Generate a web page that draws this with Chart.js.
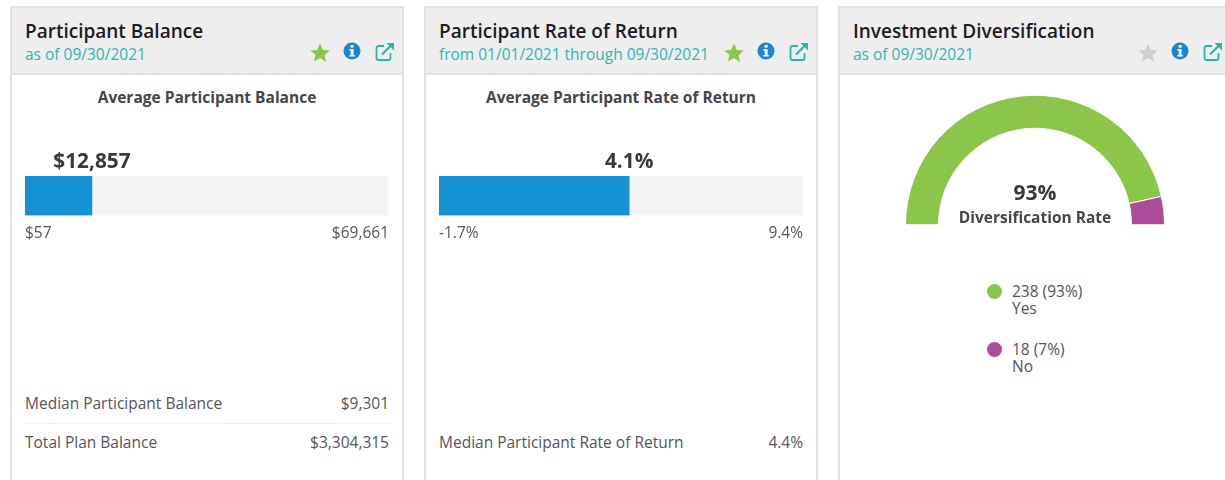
<!DOCTYPE html>
<html>
<head>
<meta charset="utf-8">
<script src="https://cdn.jsdelivr.net/npm/chart.js@4"></script>
<style>
  html, body { margin: 0; padding: 0; background: #fff; width: 1225px; height: 480px; overflow: hidden; }
  body { position: relative; font-family: "Open Sans", sans-serif; color: #4a4a4f; }
  .panel { position: absolute; top: 6px; width: 390px; height: 520px; border: 2px solid #e2e2e2; background: #fff; }
  .head { position: absolute; left: 0; top: 0; right: 0; height: 65px; background: #eeeeee; border-bottom: 2px solid #e2e2e2; }
  .abs { position: absolute; white-space: nowrap; }
  .title { left: 13px; top: 10px; font-size: 19px; font-weight: 600; color: #1c1c1f; }
  .sub { left: 13px; top: 35px; font-size: 15.5px; color: #2fb6b4; }
  .heading { left: 0; width: 390px; top: 78px; text-align: center; font-size: 15.5px; font-weight: 700; color: #45454b; }
  .row { font-size: 15.5px; color: #55555b; }
  .line { position: absolute; height: 1px; background: #f0f0f0; }
  .icon { position: absolute; top: 34px; }
  canvas { position: absolute; }
  .dot { position: absolute; width: 15px; height: 15px; border-radius: 50%; }
</style>
</head>
<body>
<script>
const panelTitles = ["Participant Balance", "Participant Rate of Return", "Investment Diversification"];
const panelDates = ["as of 09/30/2021", "from 01/01/2021 through 09/30/2021", "as of 09/30/2021"];
const panelLeft = [10, 424, 838];
const starColors = ["#8bc64b", "#8bc64b", "#d0d0cb"];
const iconLeft = [298, 298, 298];

const barHeadings = ["Average Participant Balance", "Average Participant Rate of Return"];
const barValues = [12857, 4.1];
const barMins = [57, -1.7];
const barMaxes = [69661, 9.4];
const barValueText = ["$12,857", "4.1%"];
const barMinText = ["$57", "-1.7%"];
const barMaxText = ["$69,661", "9.4%"];

const balanceRows = ["Median Participant Balance", "Total Plan Balance"];
const balanceRowValues = ["$9,301", "$3,304,315"];
const returnRows = ["Median Participant Rate of Return"];
const returnRowValues = ["4.4%"];

const gaugeLabels = ["Yes", "No"];
const gaugeCounts = [238, 18];
const gaugeText = ["238 (93%)", "18 (7%)"];
const gaugeColors = ["#8bc64b", "#ad4c98"];

function addText(parent, cls, text, style) {
  const el = document.createElement("div");
  el.className = "abs " + cls;
  el.innerText = text;
  Object.assign(el.style, style || {});
  parent.append(el);
  return el;
}

function addIcons(panel, i) {
  const x = iconLeft[i];
  const star = '<svg class="icon" style="left:' + x + 'px;top:35px" width="20" height="20" viewBox="0 0 20 20"><path fill="' + starColors[i] + '" d="M10 .5l2.9 6.4 6.9.7-5.2 4.6 1.5 6.8L10 15l-6.1 3.5 1.5-6.8L.2 7.6l6.9-.7z"/></svg>';
  const info = '<svg class="icon" style="left:' + (x + 33) + 'px" width="18" height="18" viewBox="0 0 18 18"><circle cx="9" cy="9" r="8.5" fill="#1a86d0"/><rect x="7.6" y="3" width="3" height="2.6" fill="#fff"/><path fill="#fff" d="M6.4 7h4.2v6h1.2v1.6H6.4V13h1.3V8.6H6.4z"/></svg>';
  const link = '<svg class="icon" style="left:' + (x + 65) + 'px" width="20" height="20" viewBox="0 0 20 20"><path fill="none" stroke="#2bb5a8" stroke-width="1.8" d="M9 4H3.5C2.4 4 1.5 4.9 1.5 6v10c0 1.1.9 2 2 2h10c1.1 0 2-.9 2-2v-5"/><path fill="none" stroke="#2bb5a8" stroke-width="2.2" d="M7 12.5L16.5 3"/><path fill="#2bb5a8" d="M11.5 1H19v7.5z"/></svg>';
  panel.insertAdjacentHTML("beforeend", star + info + link);
}

function makePanel(i) {
  const panel = document.createElement("div");
  panel.className = "panel";
  panel.style.left = panelLeft[i] + "px";
  const head = document.createElement("div");
  head.className = "head";
  panel.append(head);
  addText(panel, "title", panelTitles[i]);
  addText(panel, "sub", panelDates[i]);
  addIcons(panel, i);
  document.body.append(panel);
  return panel;
}

// draws the big value centred over the end of the bar
const valueLabel = {
  id: "valueLabel",
  afterDraw(chart, args, opts) {
    const x = chart.scales.x.getPixelForValue(opts.value);
    const ctx = chart.ctx;
    ctx.save();
    ctx.font = '700 20.8px "Open Sans"';
    ctx.fillStyle = "#38383d";
    ctx.textAlign = "center";
    ctx.textBaseline = "alphabetic";
    ctx.fillText(opts.text, x, chart.chartArea.top - 8);
    ctx.restore();
  },
};

function renderBar(panel, i) {
  const canvas = document.createElement("canvas");
  const wrap = document.createElement("div");
  // tick padding insets the plot area by the same amount, so the box is wider than the bar
  wrap.style.cssText = "position:absolute;left:4px;top:136px;width:382px;height:108px";
  wrap.append(canvas);
  panel.append(wrap);
  new Chart(canvas, {
    type: "bar",
    plugins: [valueLabel],
    data: {
      labels: [barHeadings[i]],
      datasets: [
        { data: [[barMins[i], barValues[i]]], backgroundColor: "#1592d4", order: 0 },
        { data: [[barMins[i], barMaxes[i]]], backgroundColor: "#f3f4f6", order: 1 },
      ],
    },
    options: {
      indexAxis: "y",
      animation: false,
      responsive: true,
      maintainAspectRatio: false,
      layout: { padding: { top: 32, bottom: 0 } },
      datasets: { bar: { grouped: false, barPercentage: 1, categoryPercentage: 1 } },
      plugins: {
        legend: { display: false },
        tooltip: { enabled: false },
        valueLabel: { value: barValues[i], text: barValueText[i] },
      },
      scales: {
        y: { display: false },
        x: {
          min: barMins[i],
          max: barMaxes[i],
          grid: { display: false, drawTicks: false },
          border: { display: false },
          afterBuildTicks(scale) {
            scale.ticks = [{ value: barMins[i] }, { value: barMaxes[i] }];
          },
          ticks: {
            autoSkip: false,
            maxRotation: 0,
            align: "inner",
            padding: 9,
            color: "#55555b",
            font: { family: "Open Sans", size: 15.5 },
            callback: (v) => (v === barMins[i] ? barMinText[i] : barMaxText[i]),
          },
        },
      },
    },
  });
}

function renderRows(panel, names, values, tops) {
  for (let r = 0; r < names.length; r++) {
    addText(panel, "row", names[r], { left: "13px", top: tops[r] + "px" });
    addText(panel, "row", values[r], { right: "13px", top: tops[r] + "px" });
  }
}

function renderGauge(panel) {
  const canvas = document.createElement("canvas");
  const wrap = document.createElement("div");
  wrap.style.cssText = "position:absolute;left:65px;top:86px;width:260px;height:132px";
  wrap.append(canvas);
  panel.append(wrap);
  new Chart(canvas, {
    type: "doughnut",
    data: {
      labels: gaugeLabels,
      datasets: [{ data: gaugeCounts, backgroundColor: gaugeColors, borderColor: "#fff", borderWidth: 1 }],
    },
    options: {
      animation: false,
      responsive: true,
      maintainAspectRatio: false,
      rotation: -90,
      circumference: 180,
      cutout: "74.5%",
      plugins: { legend: { display: false }, tooltip: { enabled: false } },
    },
  });
  addText(panel, "", "93%", { left: "0", width: "390px", textAlign: "center", top: "170px", fontSize: "21px", fontWeight: "700", color: "#38383d" });
  addText(panel, "", "Diversification Rate", { left: "0", width: "390px", textAlign: "center", top: "198px", fontSize: "15.5px", fontWeight: "700", color: "#45454b" });
  const legendTops = [275, 333];
  for (let g = 0; g < gaugeLabels.length; g++) {
    const dot = document.createElement("div");
    dot.className = "dot";
    dot.style.left = "147px";
    dot.style.top = (legendTops[g] + 1) + "px";
    dot.style.background = gaugeColors[g];
    panel.append(dot);
    // count and name sit in one block, they are set tight like the original
    addText(panel, "row", gaugeText[g] + "\n" + gaugeLabels[g], { left: "172px", top: legendTops[g] + "px", lineHeight: "17px" });
  }
}

const p0 = makePanel(0);
addText(p0, "heading", barHeadings[0]);
renderBar(p0, 0);
renderRows(p0, balanceRows, balanceRowValues, [384, 423]);
const rule = document.createElement("div");
rule.className = "line";
rule.style.cssText = "left:13px;width:364px;top:415px";
p0.append(rule);

const p1 = makePanel(1);
addText(p1, "heading", barHeadings[1]);
renderBar(p1, 1);
renderRows(p1, returnRows, returnRowValues, [423]);

const p2 = makePanel(2);
renderGauge(p2);
</script>
</body>
</html>
